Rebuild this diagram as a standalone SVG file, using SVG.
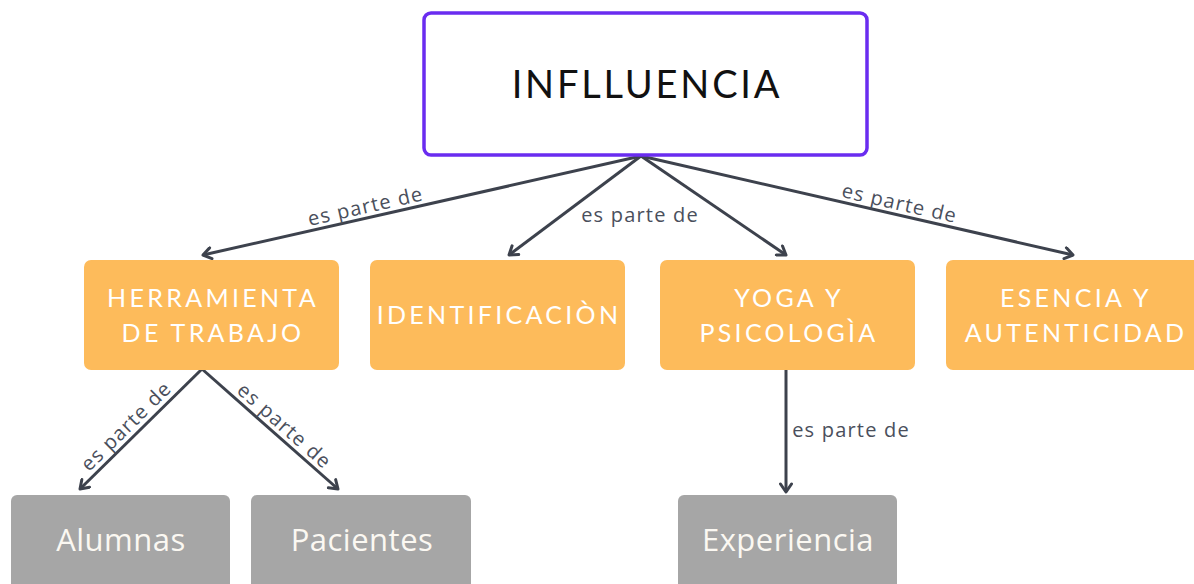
<svg xmlns="http://www.w3.org/2000/svg" width="1194" height="584" viewBox="0 0 1194 584">
<defs>
<marker id="arr" viewBox="0 0 14 14" refX="11" refY="7" markerWidth="14" markerHeight="14" markerUnits="userSpaceOnUse" orient="auto">
<path d="M3,1.5 L11,7 L3,12.5" fill="none" stroke="#3d424d" stroke-width="3" stroke-linecap="round" stroke-linejoin="round"/>
</marker>
<style>
.edge{fill:none;stroke:#3d424d;stroke-width:3;marker-end:url(#arr)}
.lbl{font-family:"Open Sans","Liberation Sans",sans-serif;font-size:20px;fill:#4a4f5c;letter-spacing:1.2px;text-anchor:middle}
.main{fill:#fff;stroke:#6a2cf0;stroke-width:3.5}
.mt{font-family:Lato,"Open Sans",sans-serif;font-weight:400;font-size:38px;fill:#111;letter-spacing:2.8px;text-anchor:middle}
.org{fill:#fdbb5b}
.ot{font-family:Lato,"Open Sans",sans-serif;font-weight:400;font-size:25px;fill:#fff;letter-spacing:3.3px;text-anchor:middle}
.gry{fill:#a6a6a6}
.gt{font-family:"Open Sans","Liberation Sans",sans-serif;font-size:31px;fill:#fbf8f2;letter-spacing:0.5px;text-anchor:middle}
</style>
</defs>
<g id="connectors">
<path class="edge" d="M641,156 L203,255"/>
<path class="edge" d="M641,156 L509,255"/>
<path class="edge" d="M641,156 L786,255"/>
<path class="edge" d="M641,156 L1073,255"/>
<path class="edge" d="M202,369 L80,489"/>
<path class="edge" d="M202,369 L338,489"/>
<path class="edge" d="M786,370 L786,492"/>
<text class="lbl" x="367" y="213" transform="rotate(-12.7 367 213)">es parte de</text>
<text class="lbl" x="640" y="222">es parte de</text>
<text class="lbl" x="898" y="210" transform="rotate(12.9 898 210)">es parte de</text>
<text class="lbl" x="131" y="431" transform="rotate(-44.6 131 431)">es parte de</text>
<text class="lbl" x="280" y="431" transform="rotate(41.4 280 431)">es parte de</text>
<text class="lbl" x="851" y="437">es parte de</text>
</g>
<g id="influencia">
<rect class="main" x="424" y="13" width="443" height="142" rx="7"/>
<text class="mt" x="647" y="98">INFLLUENCIA</text>
</g>
<g id="herramienta">
<rect class="org" x="84" y="260" width="255" height="110" rx="7"/>
<text class="ot" x="213" y="307">HERRAMIENTA</text>
<text class="ot" x="213" y="342">DE TRABAJO</text>
</g>
<g id="identificacion">
<rect class="org" x="370" y="260" width="255" height="110" rx="7"/>
<text class="ot" x="499" y="324">IDENTIFICACIÒN</text>
</g>
<g id="yoga">
<rect class="org" x="660" y="260" width="255" height="110" rx="7"/>
<text class="ot" x="789" y="307">YOGA Y</text>
<text class="ot" x="789" y="342">PSICOLOGÌA</text>
</g>
<g id="esencia">
<rect class="org" x="946" y="260" width="260" height="110" rx="7"/>
<text class="ot" x="1076" y="307">ESENCIA Y</text>
<text class="ot" x="1076" y="342">AUTENTICIDAD</text>
</g>
<g id="alumnas">
<rect class="gry" x="11" y="495" width="219" height="100" rx="6"/>
<text class="gt" x="121" y="551">Alumnas</text>
</g>
<g id="pacientes">
<rect class="gry" x="251" y="495" width="220" height="100" rx="6"/>
<text class="gt" x="362" y="551">Pacientes</text>
</g>
<g id="experiencia">
<rect class="gry" x="678" y="495" width="219" height="100" rx="6"/>
<text class="gt" x="788" y="551">Experiencia</text>
</g>
</svg>
